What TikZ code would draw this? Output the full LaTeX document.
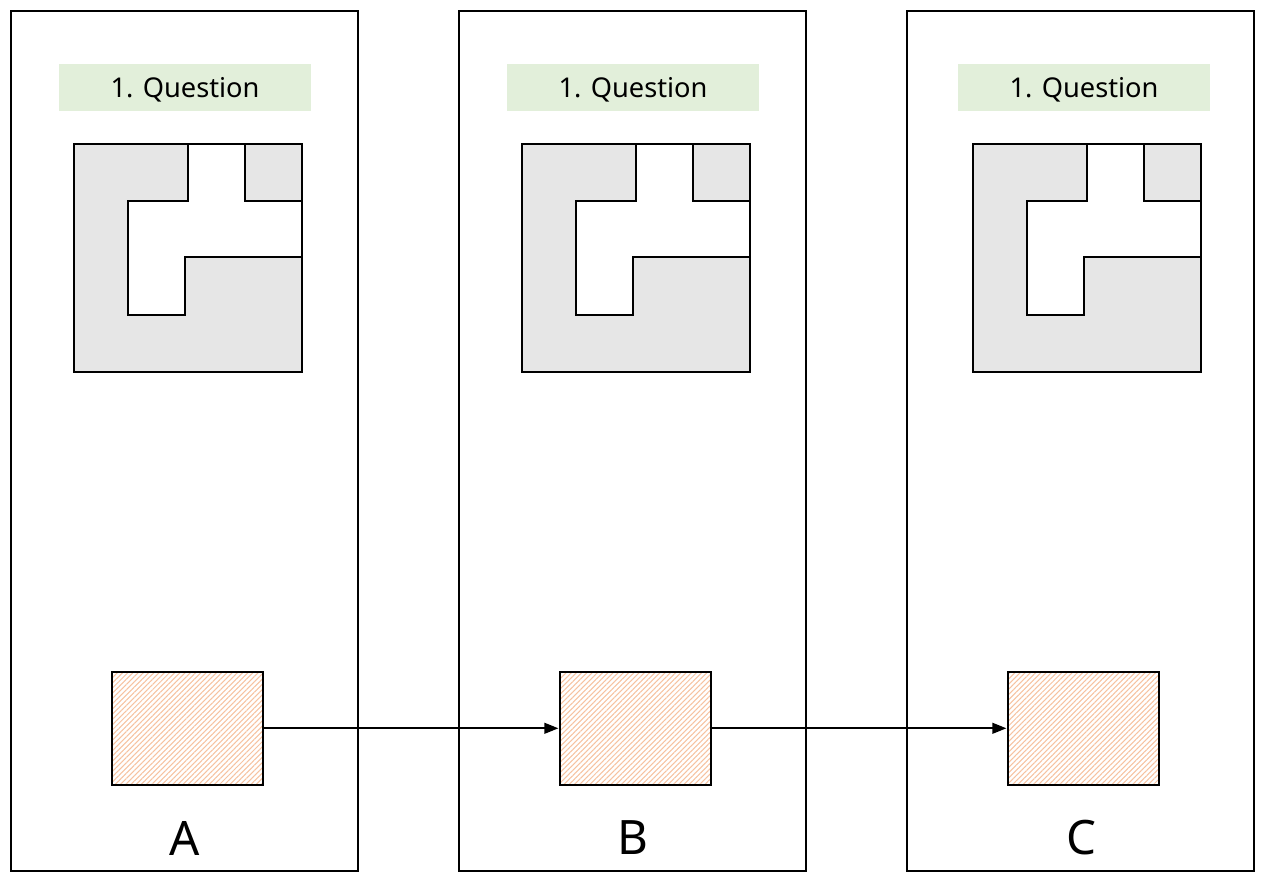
\documentclass[tikz,border=0pt]{standalone}
\usepackage{fontspec}
\setmainfont{Noto Sans}
\usetikzlibrary{patterns.meta,arrows.meta}
\definecolor{qgreen}{HTML}{E2EFDA}
\definecolor{pgray}{HTML}{E6E6E6}
\definecolor{hatchorange}{HTML}{F6C2A0}
\tikzset{
  panel/.style={draw,line width=0.9pt,minimum width=6.94cm,minimum height=17.2cm,inner sep=0pt},
  qlabel/.style={fill=qgreen,minimum width=5.04cm,minimum height=0.94cm,inner sep=0pt,
    text height=12pt,text depth=1pt,font=\fontsize{15.5}{17}\selectfont},
  hatchbox/.style={draw,line width=1.2pt,minimum width=3.03cm,minimum height=2.27cm,inner sep=0pt,
    pattern={Lines[angle=45,distance=2.1pt,line width=0.6pt]},pattern color=hatchorange},
  letter/.style={font=\fontsize{27}{30}\selectfont,inner sep=0pt}
}
\begin{document}
\begin{tikzpicture}[x=0.02cm,y=-0.02cm]
  \useasboundingbox (0,0) rectangle (1265,884);
  \foreach \n/\dx/\ex in {A/0/0,B/448/448,C/896/899}{
    \node[panel] (panel\n) at (\dx+184.5,441) {};
    \node[qlabel] (label\n) at (\ex+185,87.5) {1. Question};
    % puzzle piece
    \fill[pgray] (\ex+74,144) rectangle (\ex+302,372);
    \draw[line width=1.1pt,fill=white] (\ex+188,144) -- (\ex+245,144) -- (\ex+245,201) -- (\ex+302,201)
      -- (\ex+302,257) -- (\ex+185,257) -- (\ex+185,315) -- (\ex+128,315) -- (\ex+128,201) -- (\ex+188,201) -- cycle;
    \draw[line width=1.1pt] (\ex+74,144) rectangle (\ex+302,372);
    \node[hatchbox] (hatch\n) at (\dx+187.3,728.3) {};
    \node[letter] (name\n) at (\dx+185,838) {\n};
  }
  \draw[line width=1.3pt,-{Stealth[length=8pt,width=6pt,inset=0pt]}] (hatchA) -- (hatchB);
  \draw[line width=1.3pt,-{Stealth[length=8pt,width=6pt,inset=0pt]}] (hatchB) -- (hatchC);
\end{tikzpicture}
\end{document}
